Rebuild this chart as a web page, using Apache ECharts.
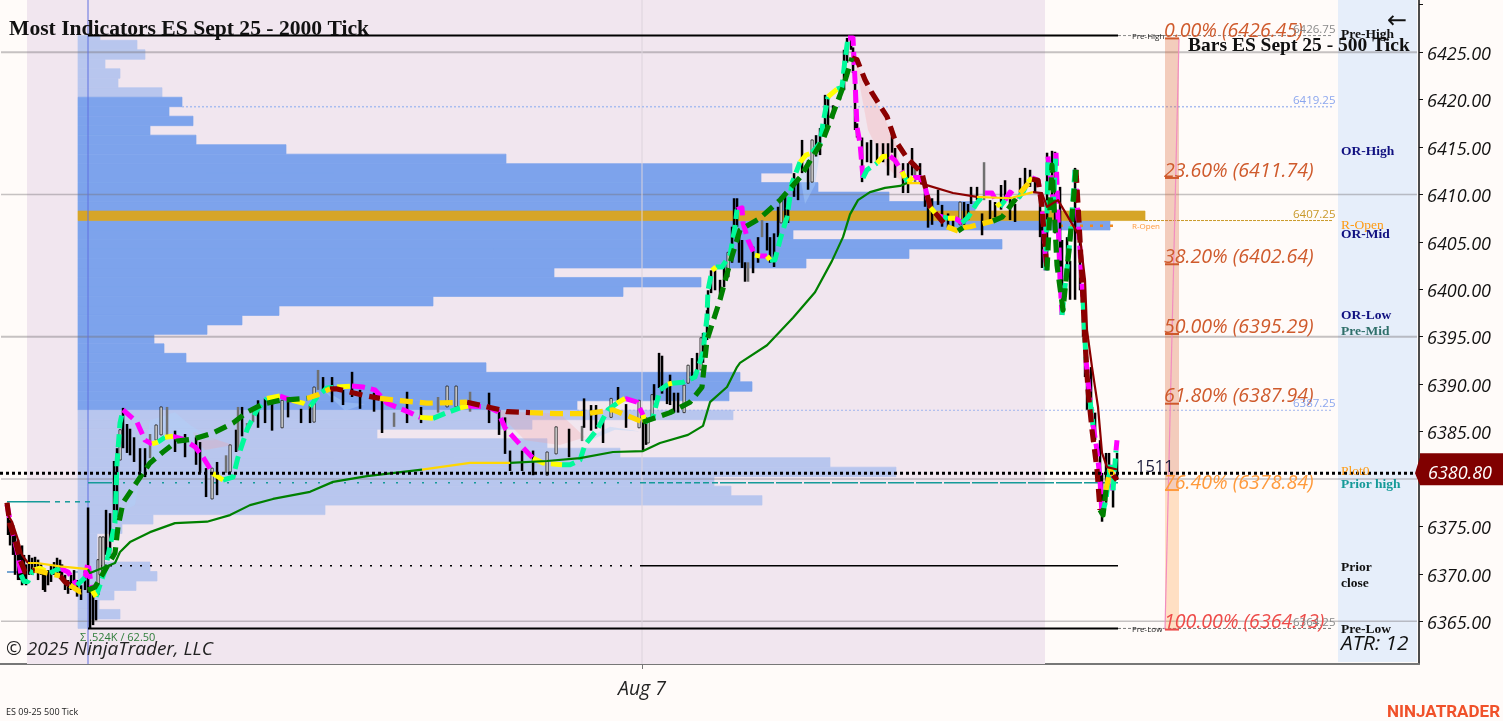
<!DOCTYPE html>
<html><head><meta charset="utf-8">
<style>html,body{margin:0;padding:0;background:#fffbf9}#c{width:1503px;height:721px}</style>
<script src="https://cdn.jsdelivr.net/npm/echarts@6/dist/echarts.min.js"></script>
</head><body><div id="c"></div>
<script>
// ---------- data: x is the bar slot on the time axis, everything else is price ----------
const priceMin = 6360.5, priceMax = 6430.5, slotMax = 1419;
const tickPrices = [6365,6370,6375,6385,6390,6395,6400,6405,6410,6415,6420,6425];
const tickMarks = [6365,6370,6375,6385,6390,6395,6400,6405,6410,6415,6420,6425,6430];
const gridPrices = [6425,6410,6395,6380,6365];
const dateSlot = [642];
const lastPrice = 6380.80, lastLinePrice = 6380.62;
const profileTop = 6426.75, pocLevel = 6407.25, vaHigh = 6419.25, vaLow = 6387.25;
// [lower price of the row, slot where the row ends]
const profileRows = [[6426.25,100],[6425.25,137],[6424.25,145],[6423.25,105],[6422.25,120],[6421.25,118],[6420.25,162],
[6419.25,182],[6418.25,169],[6417.25,193],[6416.25,150],[6415.25,196],[6414.25,286],[6413.25,506],[6412.25,792],[6411.25,761],
[6410.25,818],[6409.25,889],[6408.25,975],[6407.25,1145],[6406.25,1110],[6405.25,793],[6404.25,1002],[6403.25,909],[6402.25,806],
[6401.25,554],[6400.25,701],[6399.25,623],[6398.25,433],[6397.25,279],[6396.25,242],[6395.25,207],[6394.25,154],[6393.25,164],
[6392.25,186],[6391.25,486],[6390.25,740],[6389.25,752],[6388.25,729],[6387.25,577],[6386.25,733],[6385.25,532],[6384.25,377],
[6383.25,547],[6382.25,620],[6381.25,830],[6380.25,896],[6379.25,714],[6378.25,731],[6377.25,762],[6376.25,325],[6375.25,153],
[6374.25,122],[6373.25,97],[6372.25,97],[6371.25,97],[6370.25,150],[6369.25,157],[6368.25,136],[6367.25,114],[6366.25,99],[6365.25,120],[6364.25,90]];
// [slot, high, low, kind] kind 0 filled, 1 hollow, 2 grey
const candles = [[8,6377.5,6374.1,0],[10,6375.7,6373,0],[13,6375.15,6372,0],[15,6374.1,6369.9,0],[18,6373.6,6369.35,0],[20,6372.5,6369.35,0],[22,6373,6368.8,0],[24,6372,6369,0],[26,6371,6368.8,0],[29,6372,6369.9,0],[32,6371.7,6369.9,0],[35,6371.8,6370.4,0],[38,6371.5,6369.35,0],[41,6371,6369.9,0],[43,6370.2,6368.3,0],[45,6369.9,6368.1,0],[48,6370.4,6368.8,0],[51,6371,6369.15,0],[54,6371.25,6369.9,0],[57,6371.7,6369.9,0],[60,6371.5,6369.6,0],[62,6371,6369.35,0],[65,6369.9,6368.3,0],[68,6369.35,6367.9,0],[71,6369.9,6368.3,0],[74,6370.4,6368.5,0],[77,6369.35,6367.6,0],[81,6368.8,6367.25,0],[85,6370.4,6368.3,0],
[88,6377,6368,0],[90,6368.3,6364.3,0],[93,6368.3,6364.6,0],[96,6367.25,6365.1,0],[98,6371.5,6367.8,1],[100,6373.9,6369.9,1],[103,6373.9,6370.2,1],[106,6376.75,6372,0],[110,6376.4,6372,0],
[114,6381.9,6375.4,0],[117,6383.25,6376,0],[120,6385.2,6382,1],[123,6387.5,6383.25,0],[127,6385.8,6382.75,0],[130,6385.3,6382.5,0],[134,6384.4,6381.8,0],[140,6383.25,6380.75,0],[145,6383.25,6380.2,0],[150,6384.75,6382.2,2],[156,6385.7,6384.1,1],[161,6387.6,6384.65,1],[167,6387.6,6384.65,2],[175,6385.1,6382.85,0],[185,6384.75,6382.3,0],[196,6384.4,6381.5,0],[200,6383.9,6380.65,0],[206,6381.15,6378.1,0],[212,6381.15,6377.9,1],[217,6381.8,6378.3,0],[226,6382.5,6380.65,2],[230,6383.6,6380.75,1],[236,6385.2,6382.85,0],[238,6387.6,6383,2],[242,6387.6,6384.5,0],[247,6385.9,6385.1,2],[253,6387.6,6386,2],[258,6388.3,6385.4,0],[265,6388.5,6385.9,0],[272,6388,6385.1,0],[282,6388.3,6385.4,1],[288,6388.5,6386.5,0],[301,6387.4,6385.9,0],[310,6387.8,6385.9,0],[314,6389.7,6386,1],[318,6391.5,6389.4,2],[323,6390.75,6389.4,0],[332,6390.75,6388.1,0],[343,6389.4,6387.8,0],[352,6391.3,6388.65,0],[360,6389.4,6387.4,0],[374,6389.1,6387.1,0],[382,6388.3,6384.85,0],[394,6387,6385.5,2],[407,6389.2,6385.9,0],[421,6387.6,6385.9,0],[438,6388.65,6387,2],[447,6389.8,6387.6,1],[456,6389.8,6387.6,1],[470,6389.2,6387.1,2],[489,6389.1,6385.9,0],[499,6387.3,6384.65,0],[505,6386.5,6382.65,0],[510,6383,6380.85,0],[522,6383,6380.85,0],[533,6383,6380.4,0],[547,6382.85,6380.4,1],[556,6385.5,6382.65,1],[569,6385.3,6382.3,0],[582,6385.6,6384,2],[584,6388.5,6385.4,0],[591,6387.8,6385.1,0],[596,6387.8,6385.3,0],[603,6386.2,6383.8,0],[611,6388.5,6386.5,1],[618,6389.7,6388.1,0],[626,6387.9,6385.4,0],[639,6388.3,6385.4,1],[643,6386.5,6383,0],[646,6386.5,6383.6,0],[648,6386,6383.8,1],[652,6388.9,6386.5,1],[654,6390,6388.3,0],[659,6393.3,6389.6,0],[662,6393,6389,0],[667,6389.7,6387.9,0],[670,6391,6387.8,0],[674,6389.1,6387,0],[678,6389.1,6387,0],[684,6389.9,6387,1],[688,6392,6390.1,1],[692,6392.75,6390.4,0],[697,6393.3,6391.2,0],[701,6394.9,6391.5,1],[703,6395.4,6392.25,0],[707,6397.8,6394.65,0],[708,6399.9,6396.75,0],[711,6402,6399.6,0],[715,6402,6399.9,0],[720,6401,6399.2,0],[724,6402.8,6400.25,0],[728,6403.9,6401.3,1],[732,6406.6,6402.8,0],[734,6409.6,6406.25,0],[737,6409.6,6406.6,0],[739,6405.9,6402.8,0],[742,6405.2,6402.25,0],[745,6402.85,6400.8,0],[748,6402.85,6400.8,2],[753,6404.5,6401.7,0],[758,6405.5,6402.8,0],[762,6407.3,6405.5,2],[767,6407,6404.1,0],[770,6405.5,6402.8,0],[774,6405.9,6402.35,0],[778,6408.7,6405.5,0],[781,6409.75,6407,1],[785,6409.75,6407,0],[788,6408.7,6407,0],[794,6412.25,6409.75,0],[798,6411.8,6409.4,0],[802,6415.75,6412.25,0],[808,6413.6,6410.5,0],[812,6415.75,6411.3,1],[816,6416.25,6414,0],[820,6417,6414.15,0],[825,6420.5,6417.1,0],[828,6420.2,6417.3,0],[833,6419.4,6418,0],[840,6421.3,6420,0],[844,6425.25,6421,0],[847,6426.5,6423.9,0],[851,6426.8,6425.25,0],[853,6425.5,6422.8,0],[855,6422.8,6416.8,0],[857,6417.5,6416,0],
[862,6416,6411.3,0],[867,6415.5,6413.4,0],[871,6415.75,6413.3,0],[877,6415.4,6413.4,0],[883,6415.4,6413.4,0],[888,6415.4,6412,0],[892,6417,6414.4,0],[895,6414.9,6411.75,0],[903,6413.3,6410.15,0],[908,6413.3,6410.15,0],[912,6414.9,6412,0],[915,6413.3,6411.2,2],[920,6413.3,6411.2,0],[925,6410.8,6408.7,0],[928,6409.75,6406.5,0],[932,6409.6,6406.8,0],[938,6410.5,6408.9,0],[942,6408.9,6406.6,0],[948,6408,6406.5,0],[953,6407.6,6406.25,0],[960,6409.2,6406.8,1],[964,6409.2,6406.5,0],[968,6409,6407.3,0],[971,6410.8,6409,0],[977,6410.8,6409.4,0],[982,6408,6405.7,0],[984,6413.4,6409.4,2],[990,6409.4,6407.3,0],[995,6409.2,6407.6,0],[1001,6411,6408.4,0],[1005,6411.5,6409.4,0],[1010,6409.75,6407.3,0],[1015,6409,6407.1,0],[1020,6411.75,6409.6,0],[1025,6412.8,6410.7,0],[1030,6412.6,6410.8,0],[1035,6411.8,6410.15,0],[1040,6409.75,6405.5,0],
[1042,6407.3,6402.25,0],[1047,6414.4,6402,0],[1052,6414.6,6409.4,0],[1055,6414.5,6405.9,0],[1060,6410.8,6401.3,0],[1062,6405.2,6397.3,0],[1067,6405.5,6401,0],[1070,6403,6398.9,0],[1075,6412.8,6398.9,0],[1080,6405.2,6399.9,0],[1083,6399.9,6395,0],[1085,6395,6390.75,0],[1087,6391.8,6387.3,0],[1091,6391.8,6387.6,0],[1092,6387.6,6385.5,0],[1095,6387,6384.1,0],[1100,6384.1,6379.6,0],[1102,6380.65,6375.5,0],[1106,6382.75,6377.5,0],[1109,6382.75,6379.15,0],[1113,6380.65,6377,0],[1117,6382.75,6379.9,0]];
// fast average: [slot, price, trend of the segment that starts here]
const fastAverage = [[7,6377.3,'m'],[12,6374.6,'m'],[17,6372.5,'m'],[21,6369.9,'g'],[24,6369.2,'g'],[28,6369.2,'g'],[33,6370.4,'y'],[40,6370.6,'y'],[50,6370.1,'g'],[60,6370.6,'m'],[68,6370.2,'m'],[77,6368.8,'g'],[85,6369.6,'m'],[88,6371.2,'m'],[92,6368.3,'y'],[96,6367.6,'g'],[105,6370.4,'g'],[115,6375.4,'g'],[117,6381.7,'g'],[120,6385.9,'g'],[123,6387.3,'m'],[137,6386,'m'],[145,6384.1,'m'],[152,6383.7,'y'],[158,6383.9,'g'],[165,6384.4,'y'],[173,6384.5,'m'],[183,6384.2,'m'],[195,6383.4,'m'],[203,6382.3,'m'],[213,6380.6,'y'],[223,6379.9,'g'],[233,6380.2,'g'],[238,6382.3,'g'],[247,6385.2,'g'],[257,6387.3,'g'],[267,6388.5,'y'],[280,6388.75,'m'],[292,6388.3,'y'],[303,6388,'y'],[310,6387.6,'g'],[317,6388.65,'g'],[327,6389.6,'g'],[337,6389.7,'y'],[352,6389.8,'m'],[363,6389.7,'m'],[375,6389.4,'m'],[387,6388,'m'],[410,6387,'m'],[420,6386.5,'y'],[433,6386.4,'g'],[447,6387,'g'],[460,6387.5,'y'],[468,6387.7,'m'],[488,6387.6,'m'],[498,6387.1,'m'],[505,6385.4,'m'],[523,6383.3,'m'],[533,6382.2,'y'],[543,6381.7,'y'],[562,6381.5,'g'],[570,6381.5,'g'],[580,6382,'g'],[585,6383.6,'g'],[597,6385.2,'g'],[608,6387.3,'g'],[617,6388,'y'],[625,6388.5,'m'],[637,6388.1,'m'],[643,6386.75,'y'],[645,6386,'g'],[653,6386.5,'g'],[660,6389.4,'g'],[668,6390,'y'],[672,6390.1,'g'],[683,6390.2,'g'],[695,6390.75,'g'],[703,6393.3,'g'],[707,6397.1,'g'],[708,6399.9,'g'],[712,6402,'y'],[716,6402.35,'g'],[722,6402.35,'g'],[730,6403.6,'g'],[735,6406.6,'g'],[737,6408.4,'m'],[742,6408.6,'m'],[743,6407,'m'],[748,6405.2,'m'],[755,6403.6,'y'],[760,6403.5,'m'],[767,6403.5,'y'],[770,6403.1,'g'],[775,6403.1,'g'],[780,6405.2,'g'],[787,6407.6,'g'],[792,6411.2,'g'],[800,6413.4,'y'],[806,6414.15,'y'],[812,6414.4,'g'],[820,6415.4,'g'],[823,6417.5,'g'],[828,6420.3,'y'],[837,6421.1,'g'],[842,6421.3,'g'],[845,6424.2,'g'],[848,6426.5,'m'],[853,6426.5,'m'],[855,6422.1,'m'],[857,6417.1,'m'],[860,6415.4,'m'],[863,6411.75,'g'],[867,6412.6,'g'],[877,6413.3,'y'],[883,6414,'y'],[890,6414.05,'m'],[895,6413.6,'m'],[902,6412.4,'y'],[905,6411.75,'g'],[908,6411.3,'y'],[913,6411.8,'m'],[920,6411.8,'m'],[925,6410.8,'m'],[930,6408.7,'y'],[937,6407.8,'m'],[943,6407.6,'g'],[948,6407.5,'y'],[955,6407.5,'m'],[962,6407,'g'],[968,6407.6,'g'],[977,6409.1,'g'],[985,6410.15,'m'],[992,6410.15,'m'],[997,6409.1,'y'],[1000,6408.7,'g'],[1005,6409.4,'m'],[1010,6410.25,'m'],[1018,6409.6,'g'],[1023,6410.25,'g'],[1028,6411.3,'y'],[1032,6411.75,'m'],[1038,6411.5,'m'],[1042,6409.1,'m'],[1044,6405.9,'m'],[1046,6402,'g'],[1048,6414,'m'],[1052,6410.5,'m'],[1053,6408.4,'g'],[1056,6414.4,'m'],[1060,6401,'m'],[1062,6397.3,'g'],[1070,6405.2,'g'],[1075,6412.6,'m'],[1080,6404.1,'m'],[1083,6398.9,'g'],[1086,6392.55,'m'],[1090,6388.3,'g'],[1093,6385.7,'m'],[1097,6383,'m'],[1100,6379.9,'m'],[1102,6376.2,'g'],[1106,6377.8,'g'],[1110,6381.5,'m'],[1113,6378.8,'g'],[1116,6383,'m'],[1117,6384.1,'m']];
const slowAverage = [[7,6377.5,'d'],[10,6375.15,'d'],[15,6373.6,'d'],[20,6371.5,'d'],[25,6370.2,'d'],[35,6370.4,'o'],[50,6370,'o'],[60,6369.8,'d'],[65,6369.15,'d'],[70,6368.8,'o'],[80,6368.1,'o'],[88,6368.3,'f'],[95,6368.6,'f'],[115,6372.2,'f'],[118,6374.95,'f'],[123,6377.5,'f'],[137,6379.7,'f'],[150,6381.7,'f'],[163,6382.85,'f'],[177,6384,'f'],[193,6384.2,'f'],[213,6384.85,'f'],[233,6385.9,'f'],[247,6387.05,'f'],[263,6387.9,'f'],[280,6388.3,'f'],[307,6388.5,'o'],[317,6388.85,'o'],[330,6389.5,'d'],[337,6389.5,'d'],[367,6388.75,'d'],[380,6388.5,'o'],[397,6388.3,'o'],[427,6388,'o'],[467,6388.1,'d'],[500,6387.3,'d'],[507,6387.1,'d'],[530,6387,'o'],[557,6386.9,'o'],[587,6386.9,'o'],[613,6387.3,'o'],[643,6386,'f'],[670,6387,'f'],[690,6388.1,'f'],[702,6389.7,'f'],[707,6394.65,'f'],[720,6398.9,'f'],[730,6402.8,'f'],[740,6406.25,'f'],[760,6407.5,'f'],[780,6409.4,'f'],[800,6411.8,'f'],[823,6415.75,'f'],[843,6421.3,'f'],[852,6424.4,'d'],[857,6424.2,'d'],[865,6422.1,'d'],[872,6420.7,'d'],[887,6418.2,'d'],[895,6415.75,'d'],[907,6413.85,'d'],[922,6412.25,'d'],[930,6408.7,'d'],[947,6406.6,'o'],[958,6406.15,'f'],[963,6406.5,'o'],[970,6406.6,'o'],[993,6407.2,'f'],[1002,6407.6,'f'],[1020,6410.15,'o'],[1032,6411.6,'d'],[1038,6411.5,'d'],[1042,6408.7,'d'],[1047,6402,'f'],[1052,6413.1,'f'],[1057,6402.55,'f'],[1063,6397.8,'f'],[1070,6405.2,'f'],[1076,6412.6,'d'],[1080,6405.2,'d'],[1085,6394.65,'d'],[1088,6389.4,'d'],[1092,6385.2,'d'],[1097,6381,'d'],[1100,6376.75,'f'],[1103,6376.2,'f'],[1106,6378.85,'o'],[1110,6381,'o'],[1113,6380.4,'d'],[1117,6379.9,'d']];
const longAverage = [[8,6376.2,'d'],[12,6375.5,'d'],[18,6373.6,'d'],[22,6372,'d'],[28,6371.15,'o'],[37,6371.15,'o'],[60,6370.8,'o'],[88,6370.5,'f'],[90,6370.1,'f'],[115,6371.15,'f'],[120,6372.3,'f'],[130,6373.35,'f'],[150,6374.4,'f'],[175,6375.35,'f'],[207,6375.5,'f'],[230,6376.2,'f'],[250,6377.25,'f'],[273,6377.9,'f'],[310,6378.65,'f'],[333,6379.7,'f'],[367,6380.3,'f'],[422,6381,'o'],[470,6381.7,'o'],[510,6381.7,'f'],[547,6381.9,'f'],[580,6382.2,'f'],[613,6382.85,'f'],[643,6382.95,'f'],[660,6383.8,'f'],[688,6384.65,'f'],[703,6385.6,'f'],[710,6388.1,'f'],[727,6389.7,'f'],[737,6391.8,'f'],[740,6392.25,'f'],[767,6394.1,'f'],[793,6397,'f'],[815,6399.7,'f'],[832,6403,'f'],[843,6405.5,'f'],[850,6407.9,'f'],[858,6409.4,'f'],[870,6410.25,'f'],[885,6410.7,'f'],[900,6410.9,'f'],[907,6411.2,'o'],[920,6411.2,'d'],[953,6410.15,'d'],[977,6409.75,'o'],[1010,6409.6,'o'],[1033,6410.25,'d'],[1042,6410.15,'d'],[1047,6408.7,'d'],[1058,6409.4,'d'],[1080,6405.5,'d'],[1085,6401,'d'],[1087,6395.7,'d'],[1092,6391.8,'d'],[1098,6387.6,'d'],[1102,6382.75,'d'],[1107,6381.25,'d'],[1117,6381,'d']];
const fallingClouds = [[[855,6424.2],[868,6416.8],[885,6413.1],[905,6411],[895,6415.75],[872,6420.7]],[[480,6387.8],[500,6386.75],[525,6384.1],[560,6383.6],[585,6384.4],[560,6386.9],[507,6387.1]],[[193,6384.95],[233,6383.6],[205,6383.05],[195,6384.1]]];
const risingClouds = [[[135,6377.25],[150,6386.2],[175,6387.05],[190,6385.7],[215,6384.1],[180,6384.1],[150,6381.5],[125,6376.75]],[[583,6384.1],[610,6385.5],[640,6385],[615,6385.2],[590,6384.1]],[[322,6389.5],[345,6387.2],[365,6387.9],[345,6388.1]],[[800,6412],[825,6418],[815,6411],[805,6409]]];
const fibLevels = [['0.00%',6426.45,'#cf5a2c'],['23.60%',6411.74,'#cf5a2c'],['38.20%',6402.64,'#cf5a2c'],['50.00%',6395.29,'#cf5a2c'],['61.80%',6387.94,'#cf5a2c'],['76.40%',6378.84,'#ff9a3c'],['100.00%',6364.13,'#ee4a48']];
const fibSlots = [1165,1179];
// [price, from slot, to slot, colour, width, dash]
const levels = [
 [6426.75,88,1118,'#000',2,'solid'],[6426.75,1118,1333,'#8a8a8a',1,[3,2]],
 [6364.25,88,1118,'#000',2,'solid'],[6364.25,1118,1333,'#777',1,[3,2]],
 [6419.25,182,1333,'#a9bdf0',1.5,[2,2]],[6387.25,577,1333,'#a0b4ee',1,[2,2]],
 [6407.25,1145,1333,'#c9992a',1,[3,1]],
 [6406.7,1060,1118,'#f08a24',2.5,[3,7]],
 [6379.6,88,110,'#159a98',1.5,'solid'],[6379.6,110,640,'#159a98',1.5,[2,11]],[6379.6,640,720,'#159a98',1.5,[6,3]],[6379.6,720,1118,'#159a98',1.5,[26,2]],
 [6377.6,7,45,'#159a98',1.5,'solid'],[6377.6,45,90,'#159a98',1.5,[5,5]],
 [6370.85,100,640,'#000',1.5,[2,8]],[6370.85,640,1118,'#000',1.5,'solid'],
 [6370.2,7,20,'#4a8ac4',1.5,'solid'],[6370.2,20,88,'#4a8ac4',1,[4,5]]
];
const lastLine = [0,1417];
const sessionBand = [27,1045], labelBand = [1338,1417];
const topMarkers = [[88,'#6070e0'],[642,'#dcd3dc']];
// ---------- drawing ----------
function rect(api,x0,p0,x1,p1,fill,seal){const a=api.coord([x0,p0]),b=api.coord([x1,p1]);return {type:'rect',shape:{x:a[0],y:a[1],width:b[0]-a[0],height:b[1]-a[1]},style:seal?{fill:fill,stroke:fill,lineWidth:0.7}:{fill:fill}};}
const custom = (data,fn,z,encode) => ({type:'custom',data,renderItem:fn,z,clip:false,silent:true,animation:false,encode:encode||{x:0,y:1}});
const trendColors = {m:'#ff00ff',g:'#00fa9a',y:'#ffff00',f:'#008000',o:'#ffd700',d:'#8b0000'};
function trendSeries(points,width,dash,z){
  const byColor = {};
  for(let i=0;i<points.length-1;i++){
    const c=points[i][2]; byColor[c]=byColor[c]||[];
    const arr=byColor[c];
    if(arr.length && arr[arr.length-1][0]===points[i][0]) arr.push([points[i+1][0],points[i+1][1]]);
    else { if(arr.length) arr.push(['-','-']); arr.push([points[i][0],points[i][1]],[points[i+1][0],points[i+1][1]]); }
  }
  return Object.keys(byColor).map(c=>({type:'line',data:byColor[c],showSymbol:false,symbol:'none',connectNulls:false,silent:true,animation:false,z,
    lineStyle:{color:trendColors[c],width,type:dash,cap:'butt',join:'round'}}));
}
const levelSeries = (p,x0,x1,color,width,dash,z) => ({type:'line',data:[[x0,p],[x1,p]],symbol:'none',silent:true,animation:false,z:z||6,lineStyle:{color,width,type:dash}});
const series = [];
// backgrounds
series.push(custom([[sessionBand[0],sessionBand[1]]],(p,api)=>rect(api,api.value(0),priceMax,api.value(1),priceMin,'#f1e6ef'),1));
series.push(custom([[labelBand[0],labelBand[1]]],(p,api)=>rect(api,api.value(0),priceMax,api.value(1),priceMin+0.2,'#e6eefa'),1));
// volume profile
series.push(custom(profileRows,(p,api)=>{
  const low=api.value(0),end=api.value(1);
  const fill = low===pocLevel?'#d6a528':(low<=vaHigh&&low>=vaLow?'#7da3ec':'#b8c6ee');
  return Object.assign(rect(api,78,Math.min(low+1,profileTop),end,low,fill,true),{z2:low===pocLevel?2:1});
},2,{x:1,y:0}));
// grid
gridPrices.forEach(p=>series.push(levelSeries(p,1,1417,'rgba(120,115,120,0.42)',p===6425||p===6395?2:1.5,'solid',4)));
topMarkers.forEach(m=>series.push({type:'line',data:[[m[0],priceMin],[m[0],priceMax]],symbol:'none',silent:true,animation:false,z:5,lineStyle:{color:m[1],width:1}}));
// clouds
const poly=(list,fill)=>series.push(custom(list.map((v,i)=>[i]),(p,api)=>({type:'polygon',shape:{points:list[p.dataIndex].map(q=>api.coord(q))},style:{fill}}),5,{x:0,y:0}));
poly(fallingClouds,'rgba(248,160,160,0.26)');
poly(risingClouds,'rgba(175,210,250,0.40)');
// levels
levels.forEach(l=>series.push(levelSeries(l[0],l[1],l[2],l[3],l[4],l[5])));
// candles
series.push(custom(candles,(p,api)=>{
  const x=api.value(0),a=api.coord([x,api.value(1)]),b=api.coord([x,api.value(2)]),k=api.value(3);
  if(k===1) return {type:'rect',shape:{x:a[0]-1,y:a[1],width:2.2,height:b[1]-a[1]},style:{fill:'#fff',stroke:'#222',lineWidth:0.9}};
  return {type:'rect',shape:{x:a[0]-1.2,y:a[1],width:2.5,height:b[1]-a[1]},style:{fill:k===2?'#707070':'#000'}};
},8,{x:0,y:[1,2]}));
series.push(...trendSeries(fastAverage,5,[13,6],9));
series.push(...trendSeries(slowAverage,5.2,[13,7],10));
series.push(...trendSeries(longAverage,2.2,'solid',11));
// last price line
series.push(levelSeries(lastLinePrice,lastLine[0],lastLine[1],'#000',3,[3,3],12));
// fib column
series.push(custom(fibLevels.slice(0,6).map((f,i)=>[i]),(p,api)=>{
  const i=p.dataIndex, top=fibLevels[i][1], bot=fibLevels[i+1][1];
  return rect(api,fibSlots[0],top,fibSlots[1],bot,i===5?'rgba(255,160,70,0.30)':'rgba(215,95,45,0.30)');
},7,{x:0,y:0}));
series.push({type:'line',data:[[fibSlots[1],fibLevels[0][1]],[fibSlots[0],fibLevels[6][1]]],symbol:'none',silent:true,animation:false,z:8,lineStyle:{color:'#f28cc0',width:1.2}});
series.push(custom(fibLevels.map((f,i)=>[i]),(p,api)=>{
  const f=fibLevels[p.dataIndex],a=api.coord([fibSlots[0],f[1]]),b=api.coord([fibSlots[1],f[1]]);
  return {type:'group',children:[
    {type:'line',shape:{x1:a[0],y1:a[1],x2:b[0],y2:b[1]},style:{stroke:f[2],lineWidth:2}},
    {type:'text',style:{x:a[0]-1,y:a[1]+3,text:f[0]+' ('+f[1].toFixed(2)+')',fill:f[2],font:'italic 19.6px "Open Sans"',textAlign:'left',textVerticalAlign:'bottom'}}
  ]};
},13,{x:0,y:0}));
// price tag
series.push(custom([[slotMax,lastLinePrice]],(p,api)=>{
  const c=api.coord([api.value(0),api.value(1)]);
  return {type:'group',children:[
    {type:'polygon',shape:{points:[[c[0]-4,c[1]],[c[0]+1,c[1]-16],[c[0]+1,c[1]-20],[1503,c[1]-20],[1503,c[1]+12],[c[0]+1,c[1]+12]]},style:{fill:'#800000'}},
    {type:'text',style:{x:c[0]+9,y:c[1]+0.5,text:lastPrice.toFixed(2),fill:'#fff',font:'italic 18px "Open Sans"',textAlign:'left',textVerticalAlign:'middle'}}
  ]};
},14));
const serif='"Liberation Serif"';
const texts = [
 ['Most Indicators ES Sept 25 - 2000 Tick',9,28,'bold 21.6px '+serif,'#111'],
 ['Bars ES Sept 25 - 500 Tick',1188,44,'bold 19.5px '+serif,'#111'],
 ['Pre-High',1341,33,'bold 13.5px '+serif,'#111'],
 ['OR-High',1341,150,'bold 13.5px '+serif,'#101080'],
 ['R-Open',1341,224,'13.5px '+serif,'#ff9a10'],
 ['OR-Mid',1341,233,'bold 13.5px '+serif,'#101080'],
 ['OR-Low',1341,314,'bold 13.5px '+serif,'#101080'],
 ['Pre-Mid',1341,330,'bold 13.5px '+serif,'#2f6f6a'],
 ['Plot0',1341,470,'13.5px '+serif,'#ff9a10'],
 ['Prior high',1341,483,'bold 13.5px '+serif,'#159a98'],
 ['Prior',1341,566,'bold 13.5px '+serif,'#111'],
 ['close',1341,582,'bold 13.5px '+serif,'#111'],
 ['Pre-Low',1341,628,'bold 13.5px '+serif,'#111'],
 ['ATR: 12',1341,643,'italic 20.8px "Open Sans"','#111'],
 ['←',1387,20,'24px "DejaVu Sans"','#111'],
 ['1511',1136,466,'16.5px "Open Sans"','#1a1a3a'],
 ['6426.75',1293,28,'11.5px "Open Sans"','#8a8a8a'],
 ['6419.25',1293,99,'11.5px "Open Sans"','#8ba6ee'],
 ['6407.25',1293,213,'11.5px "Open Sans"','#c9992a'],
 ['6387.25',1293,402,'11.5px "Open Sans"','#8ba6ee'],
 ['6364.25',1293,621,'11.5px "Open Sans"','#8a8a8a'],
 ['Pre-High',1132,35,'8px "Open Sans"','#222'],
 ['R-Open',1132,225,'8px "Open Sans"','#ff9a3c'],
 ['Pre-Low',1132,628,'8px "Open Sans"','#222'],
 ['© 2025 NinjaTrader, LLC',6,648,'italic 19px "Open Sans"','#222'],
 ['Σ .524K / 62.50',80,636,'11px "Open Sans"','#2f7d3a'],
 ['ES 09-25 500 Tick',6,711,'9px "Open Sans"','#222'],
 ['NINJATRADER',1387,711,'bold 17px Roboto','#f0512a']
];
const chart = echarts.init(document.getElementById('c'),null,{renderer:'canvas'});
chart.setOption({
  animation:false, backgroundColor:'#fffbf9',
  grid:{left:0,right:84,top:0,bottom:57,containLabel:false},
  tooltip:{show:false}, legend:{show:false},
  xAxis:{type:'value',min:0,max:slotMax,splitLine:{show:false},
    axisLine:{show:true,onZero:false,lineStyle:{color:'#777',width:2}},
    axisTick:{show:true,length:5,customValues:dateSlot,lineStyle:{color:'#777'}},
    axisLabel:{show:true,customValues:dateSlot,margin:15,formatter:()=>'Aug 7',fontFamily:'Open Sans',fontStyle:'italic',fontSize:19.5,color:'#222'}},
  yAxis:{type:'value',position:'right',min:priceMin,max:priceMax,scale:true,splitLine:{show:false},
    axisLine:{show:true,onZero:false,lineStyle:{color:'#111',width:1.5}},
    axisTick:{show:true,length:4,customValues:tickMarks,lineStyle:{color:'#111'}},
    axisLabel:{show:true,customValues:tickPrices,margin:8,formatter:v=>'{p|'+Number(v).toFixed(2)+'}',
      rich:{p:{padding:[5,0,0,0],fontFamily:'Open Sans',fontStyle:'italic',fontSize:18,color:'#111'}}}},
  series,
  graphic:{elements:texts.map(t=>({type:'text',x:t[1],y:t[2]+1.5,z:100,silent:true,style:{text:t[0],font:t[3],fill:t[4],textAlign:'left',textVerticalAlign:'middle'}}))}
});
</script></body></html>
